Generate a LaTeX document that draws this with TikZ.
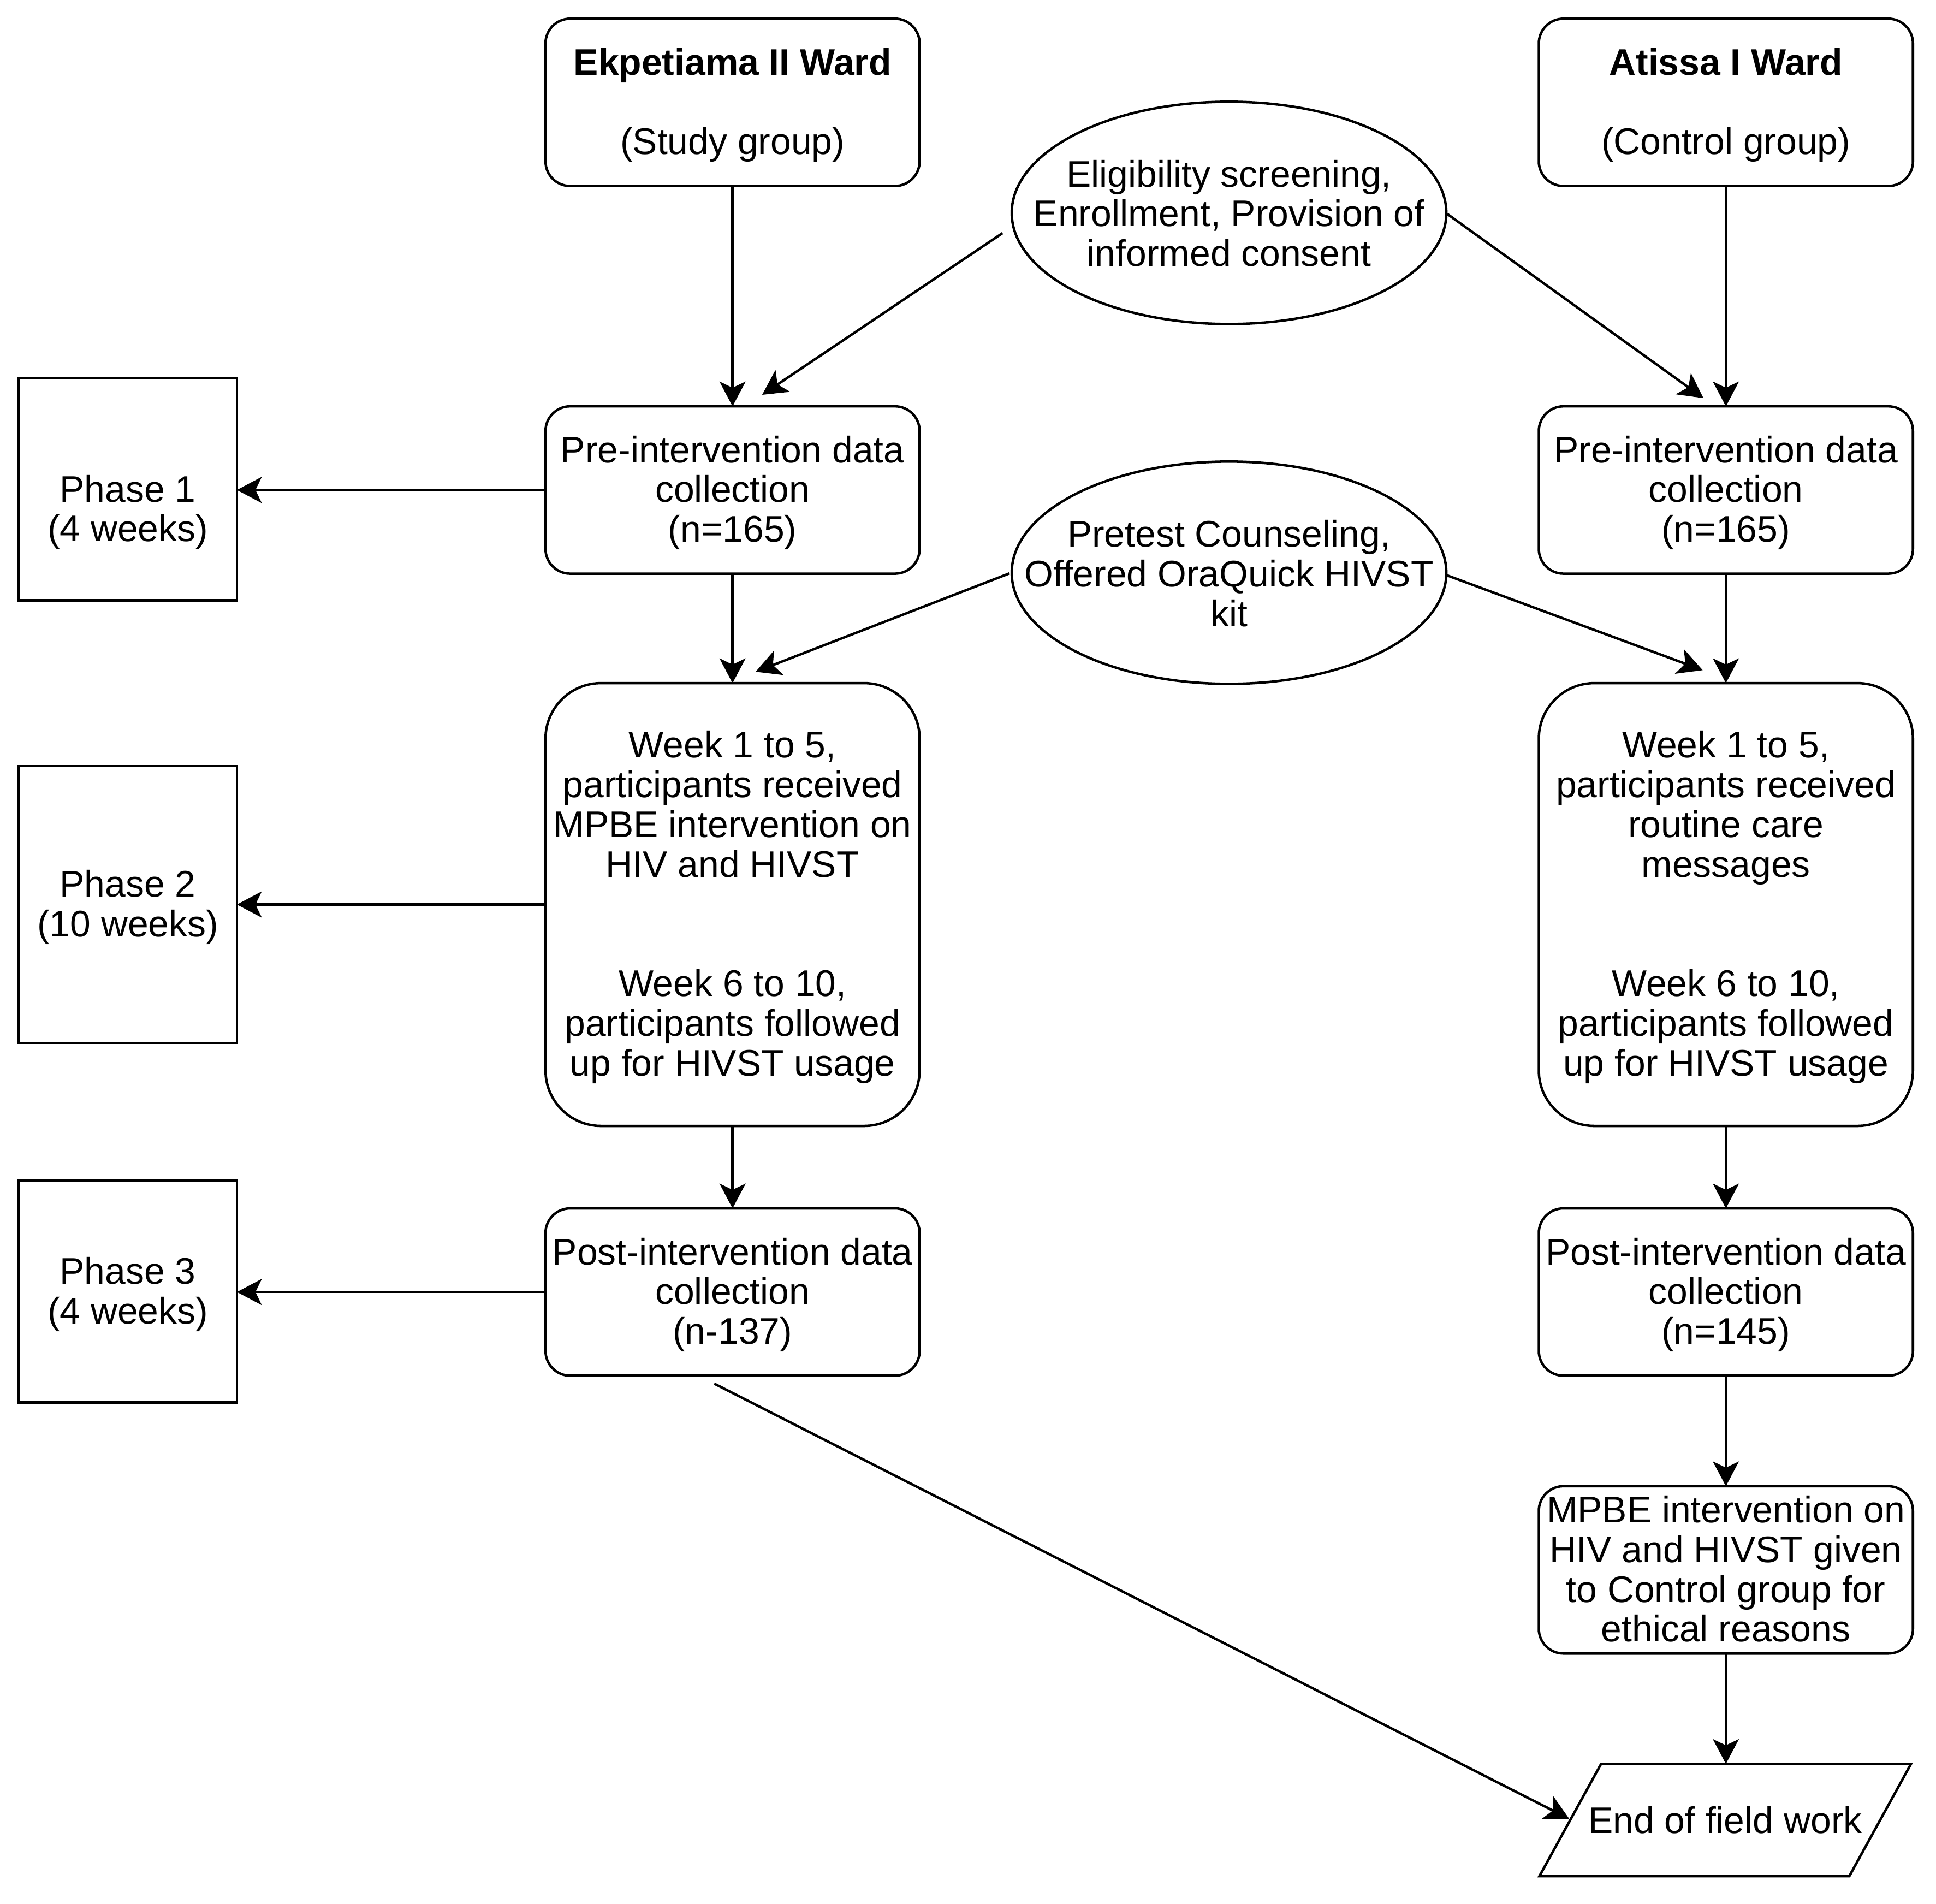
\documentclass[tikz,border=0pt]{standalone}
\usepackage{fontspec}
\setmainfont{Liberation Sans}
\usetikzlibrary{arrows.meta,shapes.geometric,calc}
\newcommand{\Tst}{\rule{0pt}{27pt}}
\begin{document}
\begin{tikzpicture}[x=1pt,y=-1pt,
  every node/.style={font=\fontsize{30}{32.2}\selectfont, inner sep=0pt, outer sep=0pt},
  struts/.style={execute at end node={\rule[-7pt]{0pt}{7pt}}},
  rbox/.style={draw, line width=2pt, rounded corners=20pt, minimum width=303pt, minimum height=135.5pt, align=center, struts},
  wbox/.style={rbox, rounded corners=45pt, minimum height=358.6pt},
  pbox/.style={draw, line width=2pt, minimum width=176.7pt, align=center, struts},
  ell/.style={draw, ellipse, line width=2pt, minimum width=352pt, minimum height=180pt},
  txt/.style={align=center, struts},
  arr/.style={line width=2pt, -{Stealth[length=20pt,width=21pt,inset=5pt]}},
  shapeline/.style={line width=2pt, line join=miter}
]
\fill[white] (0,0) rectangle (1568,1541.5);
\useasboundingbox (0,0) rectangle (1568,1541.5);

% top boxes
\node[rbox] (ekp) at (593.3,82.9) {\Tst\textbf{Ekpetiama II Ward}\\~\\(Study group)};
\node[rbox] (ati) at (1397.8,82.9) {\Tst\textbf{Atissa I Ward}\\~\\(Control group)};

% ellipses
\node[ell] (e1) at (995.4,172.4) {};
\node[txt] (e1t) at (995.4,173.5) {\Tst Eligibility screening,\\Enrollment, Provision of\\informed consent};
\node[ell] (e2) at (995.4,463.8) {};
\node[txt] (e2t) at (995.4,465) {\Tst Pretest Counseling,\\Offered OraQuick HIVST\\kit};

% pre-intervention
\node[rbox] (preL) at (593.3,396.8) {\Tst Pre-intervention data\\collection\\(n=165)};
\node[rbox] (preR) at (1397.8,396.8) {\Tst Pre-intervention data\\collection\\(n=165)};

% week boxes
\node[wbox] (weekL) at (593.3,732.5) {\Tst Week 1 to 5,\\participants received\\MPBE intervention on\\HIV and HIVST\\~\\~\\Week 6 to 10,\\participants followed\\up for HIVST usage};
\node[wbox] (weekR) at (1397.8,732.5) {\Tst Week 1 to 5,\\participants received\\routine care\\messages\\~\\~\\Week 6 to 10,\\participants followed\\up for HIVST usage};

% post-intervention
\node[rbox] (postL) at (593.3,1046.3) {\Tst Post-intervention data\\collection\\(n-137)};
\node[rbox] (postR) at (1397.8,1046.3) {\Tst Post-intervention data\\collection\\(n=145)};

% MPBE for control
\node[rbox] (mpbe) at (1397.8,1271.3) {\Tst MPBE intervention on\\HIV and HIVST given\\to Control group for\\ethical reasons};

% end of field work (parallelogram)
\node[minimum width=251pt, minimum height=91pt] (endw) at (1397.25,1473.9) {End of field work};
\draw[shapeline] ($(endw.north west)+(25,0)$) -- ($(endw.north east)+(25,0)$) -- ($(endw.south east)+(-25,0)$) -- ($(endw.south west)+(-25,0)$) -- cycle;

% phase boxes
\node[pbox, minimum height=179.7pt] (ph1) at (103.55,396.35) {};
\node[txt] (ph1t) at (103.55,412.5) {\Tst Phase 1\\(4 weeks)};
\node[pbox, minimum height=224.2pt] (ph2) at (103.55,732.4) {\Tst Phase 2\\(10 weeks)};
\node[pbox, minimum height=179.8pt] (ph3) at (103.55,1045.9) {\Tst Phase 3\\(4 weeks)};

% free ends of slanted connectors
\coordinate (e1Ls) at (811.9,188.8);
\coordinate (e1Le) at (617.3,319.7);
\coordinate (e1Rs) at (1172.2,173.3);
\coordinate (e1Re) at (1379.6,322.4);
\coordinate (e2Ls) at (817.6,464.3);
\coordinate (e2Le) at (612,544);
\coordinate (e2Rs) at (1171.4,465.7);
\coordinate (e2Re) at (1379,542.7);
\coordinate (dgs) at (578.5,1120.5);
\coordinate (dge) at (1271,1473);

% connectors
\draw[arr] (ekp.south) -- (preL.north);
\draw[arr] (ati.south) -- (preR.north);
\draw[arr] (e1Ls) -- (e1Le);
\draw[arr] (e1Rs) -- (e1Re);
\draw[arr] (preL.west) -- (preL.west -| ph1.east);
\draw[arr] (preL.south) -- (weekL.north);
\draw[arr] (preR.south) -- (weekR.north);
\draw[arr] (e2Ls) -- (e2Le);
\draw[arr] (e2Rs) -- (e2Re);
\draw[arr] (weekL.west) -- (weekL.west -| ph2.east);
\draw[arr] (weekL.south) -- (postL.north);
\draw[arr] (weekR.south) -- (postR.north);
\draw[arr] (postL.west) -- (postL.west -| ph3.east);
\draw[arr] (postR.south) -- (mpbe.north);
\draw[arr] (mpbe.south) -- (mpbe.south |- endw.north);
\draw[arr] (dgs) -- (dge);
\end{tikzpicture}
\end{document}
